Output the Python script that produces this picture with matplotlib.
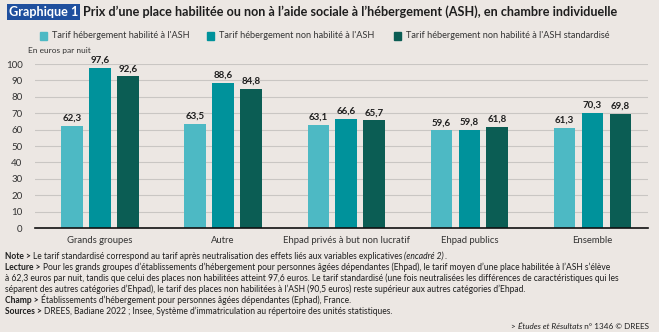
import numpy as np
import matplotlib
matplotlib.use("Agg")
import matplotlib.pyplot as plt

categories = ["Grands groupes", "Autre", "Ehpad privés à but non lucratif",
              "Ehpad publics", "Ensemble"]
series_names = ["Tarif hébergement habilité à l'ASH",
                "Tarif hébergement non habilité à l'ASH",
                "Tarif hébergement non habilité à l'ASH standardisé"]
habilite = [62.3, 63.5, 63.1, 59.6, 61.3]
non_habilite = [97.6, 88.6, 66.6, 59.8, 70.3]
standardise = [92.6, 84.8, 65.7, 61.8, 69.8]
yticks = list(range(0, 101, 10))

BG = "#ECE7E3"
COLORS = ["#4DB9C4", "#00929B", "#0B5D54"]
TXT = "#1E1E1E"

plt.rcParams.update({"font.family": ["Lato", "DejaVu Sans"]})

fig = plt.figure(figsize=(6.59, 3.32), dpi=100, facecolor=BG)
ax = fig.add_axes([0.053, 0.313, 0.930, 0.494], facecolor=BG)

x = np.arange(len(categories))
step, width = 0.227, 0.176
for i, (vals, col) in enumerate(zip([habilite, non_habilite, standardise], COLORS)):
    pos = x + (i - 1) * step
    ax.bar(pos, vals, width=width, color=col, zorder=3)
    for p, v in zip(pos, vals):
        ax.text(p, v + 1.8, f"{v:.1f}".replace(".", ","), ha="center", va="bottom",
                fontsize=7, fontweight="bold", color=TXT)

ax.set_xlim(-0.53, 4.45)
ax.set_ylim(0, 100)
ax.set_yticks(yticks)
ax.set_yticklabels([str(t) for t in yticks], fontsize=7, color="#333333")
ax.set_xticks(x)
ax.set_xticklabels(categories, fontsize=6.8, color="#333333")
ax.tick_params(length=0, pad=6)
ax.tick_params(axis="y", pad=9)
ax.yaxis.grid(True, color="#C9C6C3", lw=0.8, zorder=0)
for s in ("top", "right", "left"):
    ax.spines[s].set_visible(False)
ax.spines["bottom"].set_color("#111111")
ax.spines["bottom"].set_linewidth(1.2)
ax.spines["bottom"].set_zorder(4)


def chain(x0, y0, parts, fs, color=TXT):
    """Write text pieces one after another (bold/italic prefixes)."""
    last = None
    for txt, style in parts:
        kw = dict(fontsize=fs, color=color, va="bottom")
        if style == "b":
            kw["fontweight"] = "bold"
        elif style == "i":
            kw["fontstyle"] = "italic"
        if last is None:
            last = fig.text(x0 / 659, 1 - y0 / 332, txt, **kw)
        else:
            last = fig.add_artist(matplotlib.text.Annotation(
                txt, xy=(1, 0), xycoords=last, annotation_clip=False, **kw))
    return last


# title
fig.text(9 / 659, 1 - 12 / 332, "Graphique 1", fontsize=9.1, fontweight="bold",
         color="white", va="center",
         bbox=dict(boxstyle="square,pad=0.15", fc="#1F4F9E", ec="none"))
fig.text(83 / 659, 1 - 12 / 332,
         "Prix d’une place habilitée ou non à l’aide sociale à l’hébergement (ASH), en chambre individuelle",
         fontsize=9.1, fontweight="bold", color=TXT, va="center")

# legend
leg_x = [40, 207, 394]
for lx, name, col in zip(leg_x, series_names, COLORS):
    fig.patches.append(plt.Rectangle((lx / 659, 1 - 39.5 / 332), 6.5 / 659, 7 / 332,
                                     transform=fig.transFigure, color=col))
    fig.text((lx + 12) / 659, 1 - 36 / 332, name, fontsize=6.6, color="#333333", va="center")
fig.text(28 / 659, 1 - 51 / 332, "En euros par nuit", fontsize=6.0, color="#333333", va="center")

# notes
fs = 6.15
chain(5, 261, [("Note > ", "b"),
               ("Le tarif standardisé correspond au tarif après neutralisation des effets liés aux variables explicatives ", ""),
               ("(encadré 2)", "i"), (".", "")], fs)
chain(5, 272, [("Lecture > ", "b"),
               ("Pour les grands groupes d’établissements d’hébergement pour personnes âgées dépendantes (Ehpad), le tarif moyen d’une place habilitée à l’ASH s’élève", "")], fs)
chain(5, 283, [("à 62,3 euros par nuit, tandis que celui des places non habilitées atteint 97,6 euros. Le tarif standardisé (une fois neutralisées les différences de caractéristiques qui les", "")], fs)
chain(5, 294, [("séparent des autres catégories d’Ehpad), le tarif des places non habilitées à l’ASH (90,5 euros) reste supérieur aux autres catégories d’Ehpad.", "")], fs)
chain(5, 305, [("Champ > ", "b"),
               ("Établissements d’hébergement pour personnes âgées dépendantes (Ephad), France.", "")], fs)
chain(5, 316, [("Sources > ", "b"),
               ("DREES, Badiane 2022 ; Insee, Système d’immatriculation au répertoire des unités statistiques.", "")], fs)
chain(511, 330, [("> ", ""), ("Études et Résultats", "i"), (" n° 1346 © DREES", "")], 5.9)

fig.savefig("out.png", dpi=100, facecolor=BG)
